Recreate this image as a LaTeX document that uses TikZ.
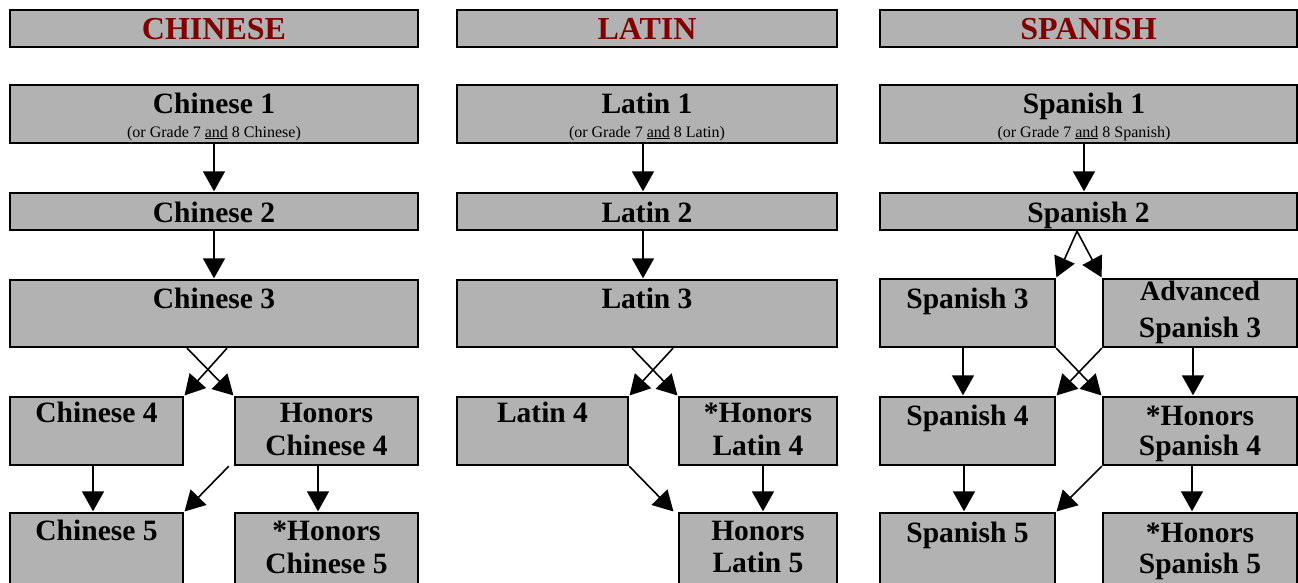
\documentclass[tikz,border=0pt]{standalone}
\usepackage{fontspec}
\setmainfont{Liberation Serif}
\usetikzlibrary{arrows.meta}
\definecolor{boxgray}{RGB}{178,178,178}
\definecolor{titlered}{RGB}{128,0,0}
\tikzset{
  box/.style={draw=black, line width=2.4pt, fill=boxgray, rectangle, inner sep=0pt},
  ttl/.style={anchor=base, inner sep=0pt, text=titlered, font=\fontsize{32}{34}\selectfont\bfseries},
  lbl/.style={anchor=base, inner sep=0pt, font=\fontsize{29.5}{33}\selectfont\bfseries},
  sml/.style={anchor=base, inner sep=0pt, font=\fontsize{16}{18}\selectfont},
  arr/.style={line width=1.6pt, -{Triangle[width=22pt,length=20pt]}, shorten >=0.5pt}
}
\begin{document}
\begin{tikzpicture}[x=1pt,y=-1pt]
\useasboundingbox (0,0) rectangle (1298,582);
\clip (0,0) rectangle (1298,582);
% ---------- headers ----------
\node[box, minimum width=408pt, minimum height=37pt] (hc) at (214,28.5) {};
\node[box, minimum width=380pt, minimum height=37pt] (hl) at (647,28.5) {};
\node[box, minimum width=417pt, minimum height=37pt] (hs) at (1088.5,28.5) {};
\node[ttl] (thc) at (214,39) {CHINESE};
\node[ttl] (thl) at (647,39) {LATIN};
\node[ttl] (ths) at (1088.5,39) {SPANISH};
% ---------- Chinese ----------
\node[box, minimum width=408pt, minimum height=58pt] (c1) at (214,114) {};
\node[box, minimum width=408pt, minimum height=37pt] (c2) at (214,211.5) {};
\node[box, minimum width=408pt, minimum height=67pt] (c3) at (214,313.5) {};
\node[box, minimum width=173pt, minimum height=68pt] (c4) at (96.5,431) {};
\node[box, minimum width=183pt, minimum height=68pt] (hc4) at (326.5,431) {};
\node[box, minimum width=173pt, minimum height=87pt] (c5) at (96.5,556.5) {};
\node[box, minimum width=183pt, minimum height=87pt] (hc5) at (326.5,556.5) {};
\node[lbl] (tc1) at (214,113) {Chinese 1};
\node[sml] (tc1s) at (214,137) {(or Grade 7 \underline{and} 8 Chinese)};
\node[lbl] (tc2) at (214,222) {Chinese 2};
\node[lbl] (tc3) at (214,308) {Chinese 3};
\node[lbl] (tc4) at (96.5,422) {Chinese 4};
\node[lbl] (thc4a) at (326.5,422) {Honors};
\node[lbl] (thc4b) at (326.5,455) {Chinese 4};
\node[lbl] (tc5) at (96.5,540) {Chinese 5};
\node[lbl] (thc5a) at (326.5,540) {*Honors};
\node[lbl] (thc5b) at (326.5,573) {Chinese 5};
% ---------- Latin ----------
\node[box, minimum width=380pt, minimum height=58pt] (l1) at (647,114) {};
\node[box, minimum width=380pt, minimum height=37pt] (l2) at (647,211.5) {};
\node[box, minimum width=380pt, minimum height=67pt] (l3) at (647,313.5) {};
\node[box, minimum width=171pt, minimum height=68pt] (l4) at (542.5,431) {};
\node[box, minimum width=158pt, minimum height=68pt] (hl4) at (758,431) {};
\node[box, minimum width=158pt, minimum height=87pt] (hl5) at (758,556.5) {};
\node[lbl] (tl1) at (647,113) {Latin 1};
\node[sml] (tl1s) at (647,137) {(or Grade 7 \underline{and} 8 Latin)};
\node[lbl] (tl2) at (647,222) {Latin 2};
\node[lbl] (tl3) at (647,308) {Latin 3};
\node[lbl] (tl4) at (542.5,422) {Latin 4};
\node[lbl] (thl4a) at (758,422) {*Honors};
\node[lbl] (thl4b) at (758,455) {Latin 4};
\node[lbl] (thl5a) at (758,540) {Honors};
\node[lbl] (thl5b) at (758,572) {Latin 5};
% ---------- Spanish ----------
\node[box, minimum width=417pt, minimum height=58pt] (s1) at (1088.5,114) {};
\node[box, minimum width=417pt, minimum height=37pt] (s2) at (1088.5,211.5) {};
\node[box, minimum width=175pt, minimum height=68pt] (s3) at (967.5,313) {};
\node[box, minimum width=194pt, minimum height=68pt] (as3) at (1200,313) {};
\node[box, minimum width=175pt, minimum height=68pt] (s4) at (967.5,431) {};
\node[box, minimum width=194pt, minimum height=68pt] (hs4) at (1200,431) {};
\node[box, minimum width=175pt, minimum height=87pt] (s5) at (967.5,556.5) {};
\node[box, minimum width=194pt, minimum height=87pt] (hs5) at (1200,556.5) {};
\node[lbl] (ts1) at (1084,113) {Spanish 1};
\node[sml] (ts1s) at (1084,137) {(or Grade 7 \underline{and} 8 Spanish)};
\node[lbl] (ts2) at (1088.5,222) {Spanish 2};
\node[lbl] (ts3) at (967.5,308) {Spanish 3};
\node[lbl, font=\fontsize{28}{32}\selectfont\bfseries] (tas3a) at (1200,300) {Advanced};
\node[lbl] (tas3b) at (1200,337) {Spanish 3};
\node[lbl] (ts4) at (967.5,425) {Spanish 4};
\node[lbl] (ths4a) at (1200,425) {*Honors};
\node[lbl] (ths4b) at (1200,455) {Spanish 4};
\node[lbl] (ts5) at (967.5,542) {Spanish 5};
\node[lbl] (ths5a) at (1200,542) {*Honors};
\node[lbl] (ths5b) at (1200,573) {Spanish 5};
% ---------- arrows: Chinese ----------
\draw[arr] (c1.south) -- (c2.north);
\draw[arr] (c2.south) -- (c3.north);
\draw[arr] ([xshift=13pt]c3.south) -- (c4.north east);
\draw[arr] ([xshift=-27pt]c3.south) -- (hc4.north west);
\draw[arr] ([xshift=-3.5pt]c4.south) -- ([xshift=-3.5pt]c5.north);
\draw[arr] ([xshift=-8.5pt]hc4.south) -- ([xshift=-8.5pt]hc5.north);
\draw[arr] ([xshift=-5pt]hc4.south west) -- (c5.north east);
% ---------- arrows: Latin ----------
\draw[arr] ([xshift=-4pt]l1.south) -- ([xshift=-4pt]l2.north);
\draw[arr] ([xshift=-4pt]l2.south) -- ([xshift=-4pt]l3.north);
\draw[arr] ([xshift=26pt]l3.south) -- (l4.north east);
\draw[arr] ([xshift=-15pt]l3.south) -- (hl4.north west);
\draw[arr] (l4.south east) -- ([xshift=-4pt]hl5.north west);
\draw[arr] ([xshift=5pt]hl4.south) -- ([xshift=5pt]hl5.north);
% ---------- arrows: Spanish ----------
\draw[arr] ([xshift=-4.5pt]s1.south) -- ([xshift=-4.5pt]s2.north);
\draw[arr] ([xshift=-11.5pt]s2.south) -- (s3.north east);
\draw[arr] ([xshift=-11.5pt]s2.south) -- (as3.north west);
\draw[arr] ([xshift=-4.5pt]s3.south) -- ([xshift=-4.5pt]s4.north);
\draw[arr] ([xshift=-7pt]as3.south) -- ([xshift=-7pt]hs4.north);
\draw[arr] (s3.south east) -- (hs4.north west);
\draw[arr] (as3.south west) -- (s4.north east);
\draw[arr] ([xshift=-3.5pt]s4.south) -- ([xshift=-3.5pt]s5.north);
\draw[arr] (hs4.south west) -- (s5.north east);
\draw[arr] ([xshift=-8pt]hs4.south) -- ([xshift=-8pt]hs5.north);
\end{tikzpicture}
\end{document}
